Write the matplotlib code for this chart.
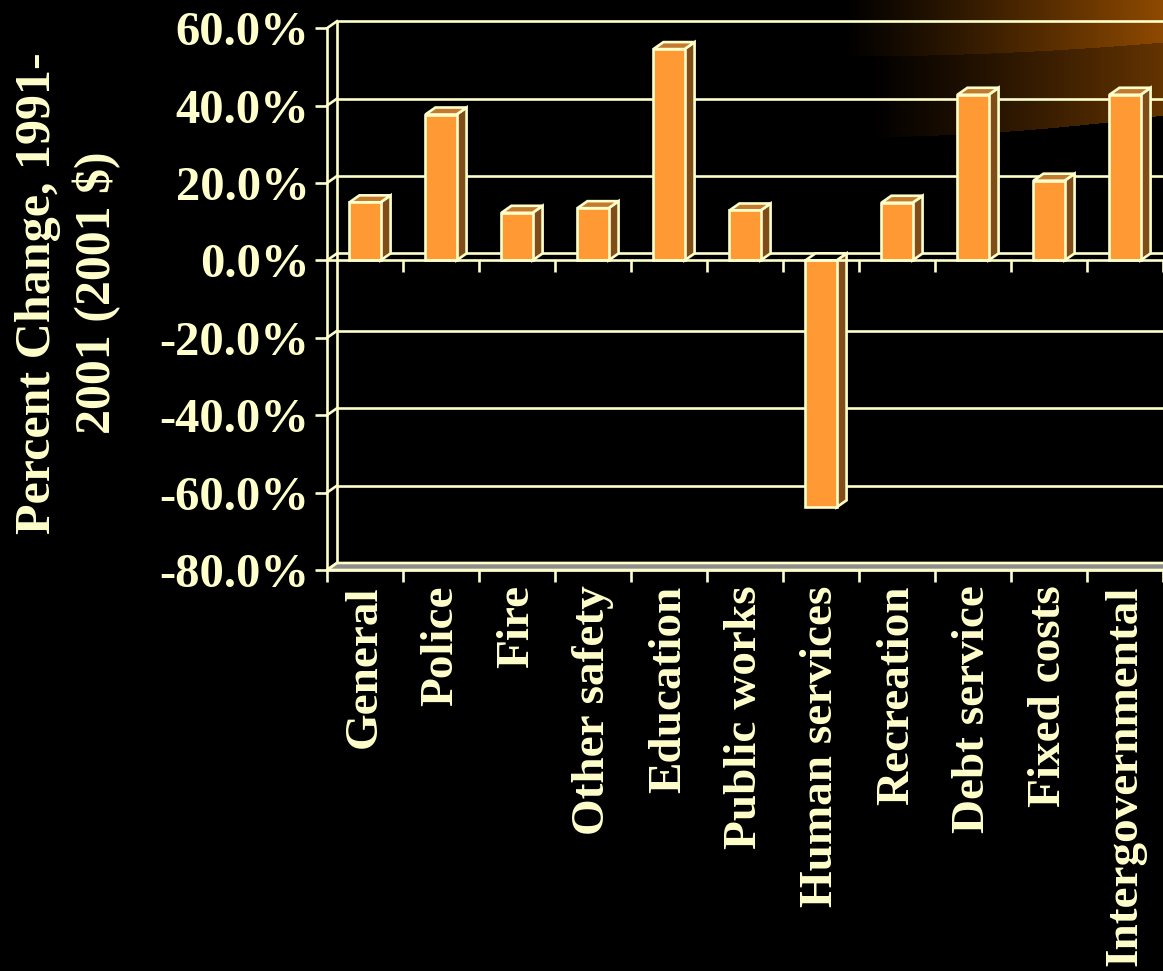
import numpy as np
import matplotlib.pyplot as plt
from matplotlib.patches import Polygon, Rectangle
from matplotlib.ticker import FixedLocator

# spending categories and their percent change, 1991-2001 (2001 $)
categories = ["General", "Police", "Fire", "Other safety", "Education",
              "Public works", "Human services", "Recreation", "Debt service",
              "Fixed costs", "Intergovernmental"]
pct_change = [15.0, 37.7, 12.3, 13.5, 54.6, 12.9, -63.8, 14.9, 42.8, 20.6, 42.8]
y_ticks = [-80, -60, -40, -20, 0, 20, 40, 60]
y_tick_labels = ["%.1f%%" % v for v in y_ticks]

cream = "#FFFFCC"
front_col = "#FF9933"
top_col = "#C47A2E"
side_col = "#804C1A"
floor_col = "#8C8C8C"
font = dict(family=["Liberation Serif", "DejaVu Serif"], weight="bold")

W, H = 1163, 971
fig = plt.figure(figsize=(W / 100, H / 100), dpi=100, facecolor="black")

# amber glow in the upper right corner
bg = fig.add_axes([0, 0, 1, 1], zorder=0)
yy, xx = np.mgrid[0:H, 0:W]
s1 = np.clip((xx - 842) / (W - 842), 0, 1)
s2 = np.clip((xx - 866) / (W - 866), 0, 1)
edge1 = 56 - 14 * s1 ** 2
edge2 = 137 - 22 * s1 ** 2
amber = np.array([0.56, 0.29, 0.0])
img = np.zeros((H, W, 3))
band1 = (yy < edge1) & (xx > 842)
band2 = (yy >= edge1) & (yy < edge2) & (xx > 866)
img[band1] = (s1[band1] ** 1.1)[:, None] * amber
img[band2] = (0.7 * s2[band2] ** 1.1)[:, None] * amber
bg.imshow(img, aspect="auto", interpolation="bilinear")
bg.set_axis_off()

# front plane of the chart: 76 px per category, 3.87 px per percent
n_span = 12
px_cat, px_pct = 76, 3.87
ax = fig.add_axes([327 / W, (H - 570) / H, n_span * px_cat / W, 140 * px_pct / H],
                  zorder=1)
ax.set_facecolor("none")
ax.set_xlim(0, n_span)
ax.set_ylim(-80, 60)

# depth of the 3-D box in data units
DX = 10 / px_cat
DY = 7 / px_pct
lw = 1.9

# back wall gridlines, left wall edge and the connectors to the front axis
ax.hlines([v + DY for v in y_ticks], DX, n_span + DX, color=cream, lw=lw,
          zorder=1, clip_on=False)
ax.vlines(DX, -80 + DY, 60 + DY, color=cream, lw=lw, zorder=1, clip_on=False)
for v in y_ticks:
    ax.plot([0, DX], [v, v + DY], color=cream, lw=lw, zorder=1, clip_on=False)

# floor
floor = Polygon([(0, -80), (n_span, -80), (n_span + DX, -80 + DY), (DX, -80 + DY)],
                closed=True, fc=floor_col, ec=cream, lw=lw, zorder=1.5, clip_on=False)
ax.add_patch(floor)

# bars
w = 0.41
for i, v in enumerate(pct_change):
    xl = i + 0.5 - w / 2
    xr = i + 0.5 + w / 2
    side = Polygon([(xr, 0), (xr + DX, DY), (xr + DX, v + DY), (xr, v)],
                   closed=True, fc=side_col, ec=cream, lw=lw, zorder=3)
    t = max(v, 0)
    cap = Polygon([(xl, t), (xr, t), (xr + DX, t + DY), (xl + DX, t + DY)],
                  closed=True, fc=top_col if v > 0 else "black", ec=cream,
                  lw=lw, zorder=3)
    front = Rectangle((xl, 0), w, v, fc=front_col, ec=cream, lw=lw, zorder=3.5)
    for p in (side, cap, front):
        p.set_clip_on(False)
        ax.add_patch(p)

# zero line on the front plane with its category ticks
tick_pct = 12 / px_pct
ax.hlines(0, 0, n_span, color=cream, lw=lw, zorder=4, clip_on=False)
ax.vlines(range(1, n_span + 1), -tick_pct, 0, color=cream, lw=lw, zorder=4,
          clip_on=False)

# axes styling
for side_name in ("top", "right"):
    ax.spines[side_name].set_visible(False)
for side_name in ("left", "bottom"):
    ax.spines[side_name].set_color(cream)
    ax.spines[side_name].set_linewidth(lw)
    ax.spines[side_name].set_zorder(4)

ax.set_yticks(y_ticks)
ax.set_yticklabels(y_tick_labels, fontsize=35, color=cream, **font)
ax.tick_params(axis="y", direction="out", length=8.6, width=lw, color=cream, pad=4)

ax.set_xticks([i + 0.5 for i in range(len(categories))])
ax.set_xticklabels(categories, rotation=90, fontsize=34, color=cream, **font)
ax.xaxis.set_minor_locator(FixedLocator(range(0, n_span + 1)))
ax.tick_params(axis="x", which="major", length=0, pad=11)
ax.tick_params(axis="x", which="minor", direction="out", length=8.6, width=lw,
               color=cream)

fig.text(68 / W, 1 - 293 / H, "Percent Change, 1991-\n2001 (2001 $)",
         rotation=90, ha="center", va="center", multialignment="center",
         fontsize=36, color=cream, linespacing=1.3, **font)

fig.savefig("out.png", dpi=100, facecolor="black")
